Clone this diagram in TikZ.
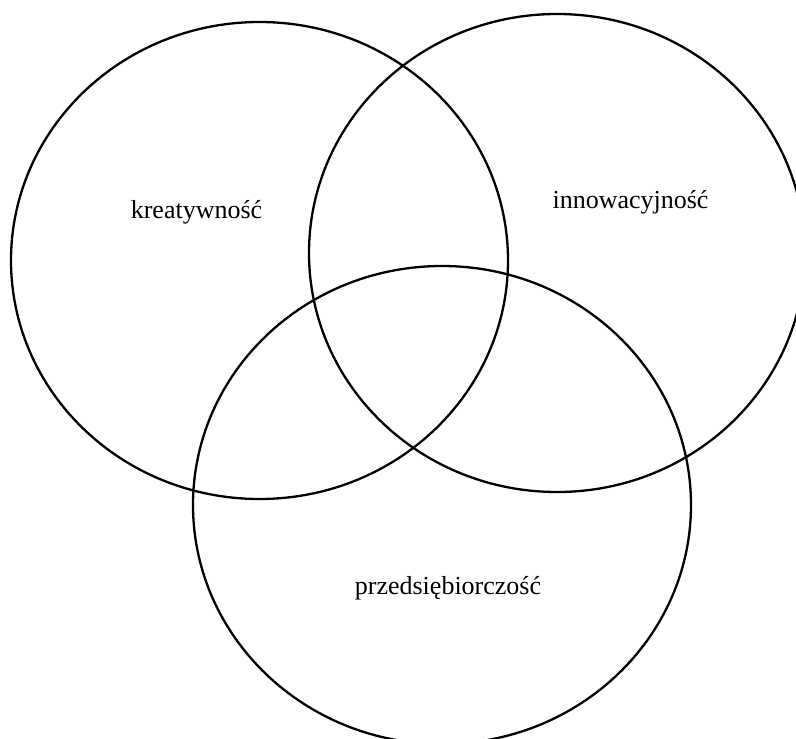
\documentclass[tikz,border=0pt]{standalone}
\usepackage{fontspec}
\setmainfont{Liberation Serif}
\begin{document}
\begin{tikzpicture}[x=1pt,y=-1pt,
  ring/.style={draw=black,line width=2.3pt},
  lbl/.style={anchor=base,font=\fontsize{26}{30}\selectfont,inner sep=0pt}]
\useasboundingbox (0,0) rectangle (796,739);
\clip (0,0) rectangle (796,739);
\draw[ring] (259.5,260.5) ellipse [x radius=248.5, y radius=238.5];
\draw[ring] (557,253) ellipse [x radius=248, y radius=239];
\draw[ring] (442,505) ellipse [x radius=249, y radius=239];
\node[lbl] (k) at (196.5,218) {kreatywność};
\node[lbl] (i) at (630.5,208) {innowacyjność};
\node[lbl] (p) at (448,594) {przedsiębiorczość};
\end{tikzpicture}
\end{document}
